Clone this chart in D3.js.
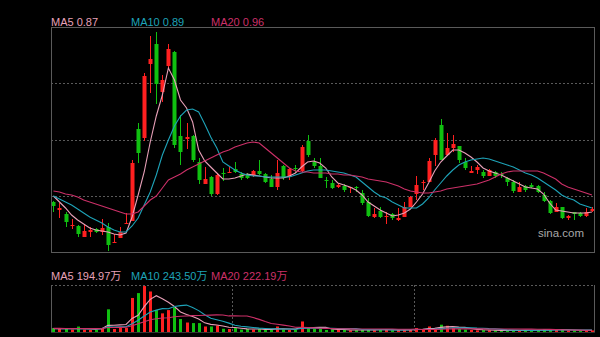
<!DOCTYPE html>
<html><head><meta charset="utf-8">
<script src="https://cdn.jsdelivr.net/npm/d3@7"></script>
<style>html,body{margin:0;padding:0;background:#000;overflow:hidden}svg{display:block}</style>
</head><body><svg id="c" width="600" height="337"></svg>
<script>
const opens = [.925,.885,.865,.805,.805,.75,.775,.79,.775,.80,
.72,.745,.815,.83,1.29,1.245,1.615,1.715,1.475,1.605,
1.675,1.255,1.24,1.255,1.125,1.015,1.05,.965,1.07,1.07,
1.09,1.065,1.065,1.055,1.08,1.065,1.04,1.0,1.105,1.05,
1.095,1.08,1.23,1.125,1.105,1.035,1.02,1.0,1.005,.995,
1.0,.97,.925,.85,.88,.85,.865,.835,.85,.90,
.965,1.02,1.025,1.16,1.31,1.16,1.195,1.205,1.125,1.07,
1.085,1.075,1.055,1.075,1.065,1.045,1.025,.975,1.005,1.01,
1.005,.96,.93,.875,.90,.845,.875,.87,.855,.88];
const closes = [.905,.895,.825,.81,.765,.78,.785,.775,.795,.71,
.725,.775,.82,1.12,1.17,1.555,1.64,1.515,1.535,1.69,
1.21,1.175,1.25,1.135,1.035,1.04,.965,1.06,1.065,1.075,
1.075,1.045,1.045,1.08,1.065,1.025,1.0,1.07,1.045,1.09,
1.09,1.20,1.16,1.105,1.045,1.03,.995,1.01,.985,1.0,
.995,.92,.855,.865,.85,.855,.845,.845,.90,.95,
1.01,1.025,1.13,1.235,1.135,1.195,1.215,1.135,1.095,1.08,
1.10,1.055,1.085,1.055,1.06,1.025,.98,1.0,.985,1.0,
.975,.93,.87,.90,.845,.855,.865,.855,.875,.89];
const highs = [.93,.92,.875,.84,.81,.815,.80,.795,.84,.82,
.765,.80,.87,1.135,1.32,1.57,1.755,1.775,1.56,1.715,
1.68,1.36,1.32,1.26,1.145,1.10,1.055,1.07,1.095,1.10,
1.125,1.075,1.07,1.085,1.135,1.07,1.06,1.135,1.11,1.095,
1.11,1.21,1.26,1.145,1.145,1.05,1.035,1.02,1.015,1.0,
1.005,.985,.945,.895,.90,.875,.87,.895,.925,.955,
1.055,1.035,1.145,1.245,1.34,1.27,1.26,1.205,1.145,1.105,
1.11,1.085,1.09,1.08,1.075,1.05,1.035,1.025,1.01,1.02,
1.01,.975,.935,.92,.90,.86,.875,.875,.895,.90];
const lows = [.875,.845,.80,.79,.75,.75,.75,.77,.76,.68,
.72,.745,.815,.83,1.12,1.23,1.47,1.415,1.425,1.595,
1.195,1.11,1.19,1.125,1.015,1.015,.955,.96,1.03,1.07,
1.07,1.035,1.04,1.05,1.06,1.02,1.0,.985,1.035,1.035,
1.07,1.075,1.15,1.095,1.045,.995,.99,.995,.975,.97,
.975,.91,.85,.845,.845,.815,.835,.83,.85,.90,
.935,.985,1.025,1.105,1.135,1.155,1.175,1.12,1.085,1.07,
1.065,1.045,1.055,1.045,1.045,1.005,.97,.975,.975,.995,
.97,.925,.865,.875,.84,.835,.835,.85,.85,.875];
const ma5 = [.955,.925,.895,.86,.835,.815,.795,.785,.78,.775,
.765,.76,.77,.85,.96,1.075,1.225,1.355,1.46,1.595,
1.535,1.435,1.395,1.325,1.185,1.13,1.10,1.07,1.04,1.04,
1.045,1.055,1.065,1.06,1.055,1.05,1.045,1.045,1.045,1.055,
1.07,1.10,1.125,1.13,1.12,1.095,1.05,1.02,1.01,1.0,
.985,.96,.925,.905,.885,.87,.855,.86,.87,.89,
.925,.965,1.02,1.08,1.125,1.155,1.185,1.185,1.17,1.15,
1.125,1.095,1.08,1.07,1.06,1.045,1.03,1.015,1.0,.995,
.99,.965,.92,.885,.88,.875,.87,.87,.87,.875];
const ma10 = [.955,.94,.925,.91,.89,.87,.85,.835,.82,.80,
.785,.775,.775,.805,.845,.91,.975,1.06,1.16,1.235,
1.305,1.355,1.385,1.39,1.375,1.315,1.25,1.195,1.125,1.105,
1.085,1.07,1.06,1.055,1.055,1.05,1.05,1.05,1.05,1.05,
1.06,1.07,1.08,1.085,1.085,1.085,1.08,1.075,1.07,1.06,
1.05,1.025,1.0,.975,.955,.945,.925,.91,.895,.895,
.895,.915,.945,.985,1.02,1.055,1.085,1.11,1.125,1.135,
1.14,1.145,1.14,1.13,1.12,1.11,1.10,1.085,1.07,1.06,
1.045,1.025,1.005,.985,.96,.945,.935,.915,.905,.895];
const ma20 = [.98,.975,.965,.96,.95,.935,.925,.915,.905,.895,
.885,.875,.865,.865,.875,.905,.935,.955,.995,1.035,
1.05,1.065,1.085,1.10,1.115,1.13,1.145,1.16,1.175,1.185,
1.20,1.21,1.22,1.225,1.22,1.195,1.17,1.145,1.12,1.095,
1.08,1.075,1.075,1.07,1.07,1.07,1.065,1.065,1.06,1.06,
1.055,1.05,1.04,1.035,1.03,1.025,1.015,1.005,.99,.98,
.975,.97,.97,.975,.98,.99,.995,1.0,1.005,1.01,
1.015,1.025,1.035,1.05,1.065,1.075,1.08,1.08,1.08,1.08,
1.08,1.07,1.055,1.04,1.015,1.0,.99,.98,.97,.96];
// volume in 万
const volumes = [490,370,370,300,670,300,250,250,490,2800,
370,490,490,4200,4800,5670,5000,2700,2300,2700,
3050,1600,1170,1100,1100,680,680,800,400,370,
490,300,370,300,370,300,300,680,300,250,
250,1300,490,400,400,250,300,300,250,200,
220,300,370,220,300,250,220,250,300,300,
490,300,680,490,900,770,490,370,300,250,
200,230,210,190,180,200,240,190,180,189,
260,320,340,280,260,190,210,170,210,195];
const volMa5 = [420,410,400,400,440,402,378,354,392,818,
832,880,928,1670,2070,3130,4032,4474,4094,3674,
3150,2470,2164,1924,1604,1130,946,872,732,586,
548,472,386,366,366,328,328,390,390,366,
356,556,518,538,568,568,368,330,300,260,
254,254,268,262,282,288,272,248,264,264,
312,328,414,452,572,628,666,604,566,436,
322,270,238,216,202,202,204,200,198,200,
212,228,258,278,292,278,256,222,208,194.97];
const volMa10 = [430,420,410,400,410,405,400,395,400,629,
617,629,641,1031,1444,1981,2456,2701,2882,2872,
3140,3251,3319,3009,2639,2140,1708,1518,1328,1095,
839,709,629,549,476,438,400,388,378,366,
342,442,454,464,467,462,462,424,419,414,
411,311,299,281,271,271,263,258,263,273,
300,300,331,358,418,470,497,509,509,504,
475,468,421,391,319,262,237,219,207,201,
207,216,229,238,246,245,242,240,243,243.5];
const volMa20 = [450,445,440,435,440,435,430,425,430,560,
560,570,580,780,1010,1270,1510,1630,1730,1750,
1879,1940,1980,2020,2042,2061,2082,2110,2105,1984,
1990,1980,1974,1779,1558,1289,1054,953,853,731,
591,576,542,507,472,450,431,406,399,390,
377,377,377,373,369,367,363,341,341,344,
356,306,315,320,345,371,380,384,386,389,
388,384,376,375,369,366,367,364,358,352,
341,342,325,314,282,253,239,229,225,222.19];
const priceLegend = ["MA5 0.87", "MA10 0.89", "MA20 0.96"];
const volLegend = ["MA5 194.97万", "MA10 243.50万", "MA20 222.19万"];
const watermark = "sina.com";

const W = 600, H = 337;
const L = 51, R = 595;
const pTop = 27, pBot = 252, vTop = 285, vBot = 332;
const colUp = "#ff2020", colDown = "#10c010";
const maColors = ["#e8a0b8", "#1ea3b8", "#cc3068"];
const gridCol = "#5a5a5a", frameCol = "#5a5a5a";

const svg = d3.select("#c");
svg.append("rect").attr("width", W).attr("height", H).attr("fill", "#000");

const idx = d3.range(opens.length);
const x = d3.scaleBand().domain(idx).range([50.4, 595]).padding(0);
const cx = i => x(i) + x.bandwidth() / 2;
const y = d3.scaleLinear().domain([0.675, 1.8]).range([pBot, pTop]);
const yv = d3.scaleLinear().domain([0, 5800]).range([vBot, vTop]);

// price panel grid
const pg = svg.append("g");
d3.range(1, 4).forEach(k => {
  const gy = Math.round(pTop + k * (pBot - pTop) / 4) + 0.5;
  pg.append("line").attr("x1", L).attr("x2", R).attr("y1", gy).attr("y2", gy)
    .attr("stroke", gridCol).attr("stroke-dasharray", "2,2");
});
svg.append("rect").attr("x", L + 0.5).attr("y", pTop + 0.5).attr("width", R - L - 1).attr("height", pBot - pTop)
  .attr("fill", "none").attr("stroke", frameCol);

// volume panel frame
svg.append("line").attr("x1", L).attr("x2", R).attr("y1", vTop + 0.5).attr("y2", vTop + 0.5)
  .attr("stroke", gridCol).attr("stroke-dasharray", "2,2");
[L + 0.5, R - 0.5].forEach(xx => svg.append("line").attr("x1", xx).attr("x2", xx).attr("y1", vTop).attr("y2", vBot + 1).attr("stroke", frameCol));
svg.append("line").attr("x1", L).attr("x2", R).attr("y1", vBot + 0.5).attr("y2", vBot + 0.5).attr("stroke", "#333");
d3.range(1, 3).forEach(k => {
  const gx = Math.round(L + k * (R - L) / 3) + 0.5;
  svg.append("line").attr("x1", gx).attr("x2", gx).attr("y1", vTop).attr("y2", vBot)
    .attr("stroke", gridCol).attr("stroke-dasharray", "2,2");
});

// clip
svg.append("clipPath").attr("id", "pc").append("rect").attr("x", L + 1).attr("y", pTop + 1).attr("width", R - L - 2).attr("height", pBot - pTop - 1);

// watermark
svg.append("text").attr("x", 584).attr("y", 237).attr("text-anchor", "end")
  .attr("fill", "#a8a8a8").attr("font-family", "Arial, 'Liberation Sans', sans-serif").attr("font-size", 11.5).text(watermark);

// candles
const cg = svg.append("g").attr("clip-path", "url(#pc)");
idx.forEach(i => {
  const up = closes[i] >= opens[i];
  const col = up ? colUp : colDown;
  const xc = Math.round(cx(i)) + 0.5;
  cg.append("line").attr("x1", xc).attr("x2", xc).attr("y1", y(highs[i])).attr("y2", y(lows[i])).attr("stroke", col);
  const t = y(Math.max(opens[i], closes[i])), b = y(Math.min(opens[i], closes[i]));
  cg.append("rect").attr("x", Math.round(cx(i)) - 1.5).attr("y", t).attr("width", 4).attr("height", Math.max(1, b - t)).attr("fill", col);
});

// MA lines
const line = d3.line().x((d, i) => cx(i)).y(d => y(d));
[ma5, ma10, ma20].forEach((s, k) => {
  cg.append("path").attr("d", line(s)).attr("fill", "none").attr("stroke", maColors[k]).attr("stroke-width", 1.1);
});

// volume bars
const vg = svg.append("g");
idx.forEach(i => {
  const up = closes[i] >= opens[i];
  const t = yv(volumes[i]);
  vg.append("rect").attr("x", Math.round(cx(i)) - 1).attr("y", t).attr("width", 3).attr("height", Math.max(1, vBot - t))
    .attr("fill", up ? colUp : colDown);
});
const vline = d3.line().x((d, i) => cx(i)).y(d => yv(d));
[volMa5, volMa10, volMa20].forEach((s, k) => {
  vg.append("path").attr("d", vline(s)).attr("fill", "none").attr("stroke", maColors[k]).attr("stroke-width", 1.1);
});

// legends
const font = "Arial, 'Liberation Sans', 'Noto Sans CJK SC', sans-serif";
const legX = [51, 131, 211];
priceLegend.forEach((t, k) => svg.append("text").attr("x", legX[k]).attr("y", 26).attr("fill", maColors[k])
  .attr("font-family", font).attr("font-size", 11).text(t));
volLegend.forEach((t, k) => svg.append("text").attr("x", legX[k]).attr("y", 280).attr("fill", maColors[k])
  .attr("font-family", font).attr("font-size", 11).text(t));
</script></body></html>
